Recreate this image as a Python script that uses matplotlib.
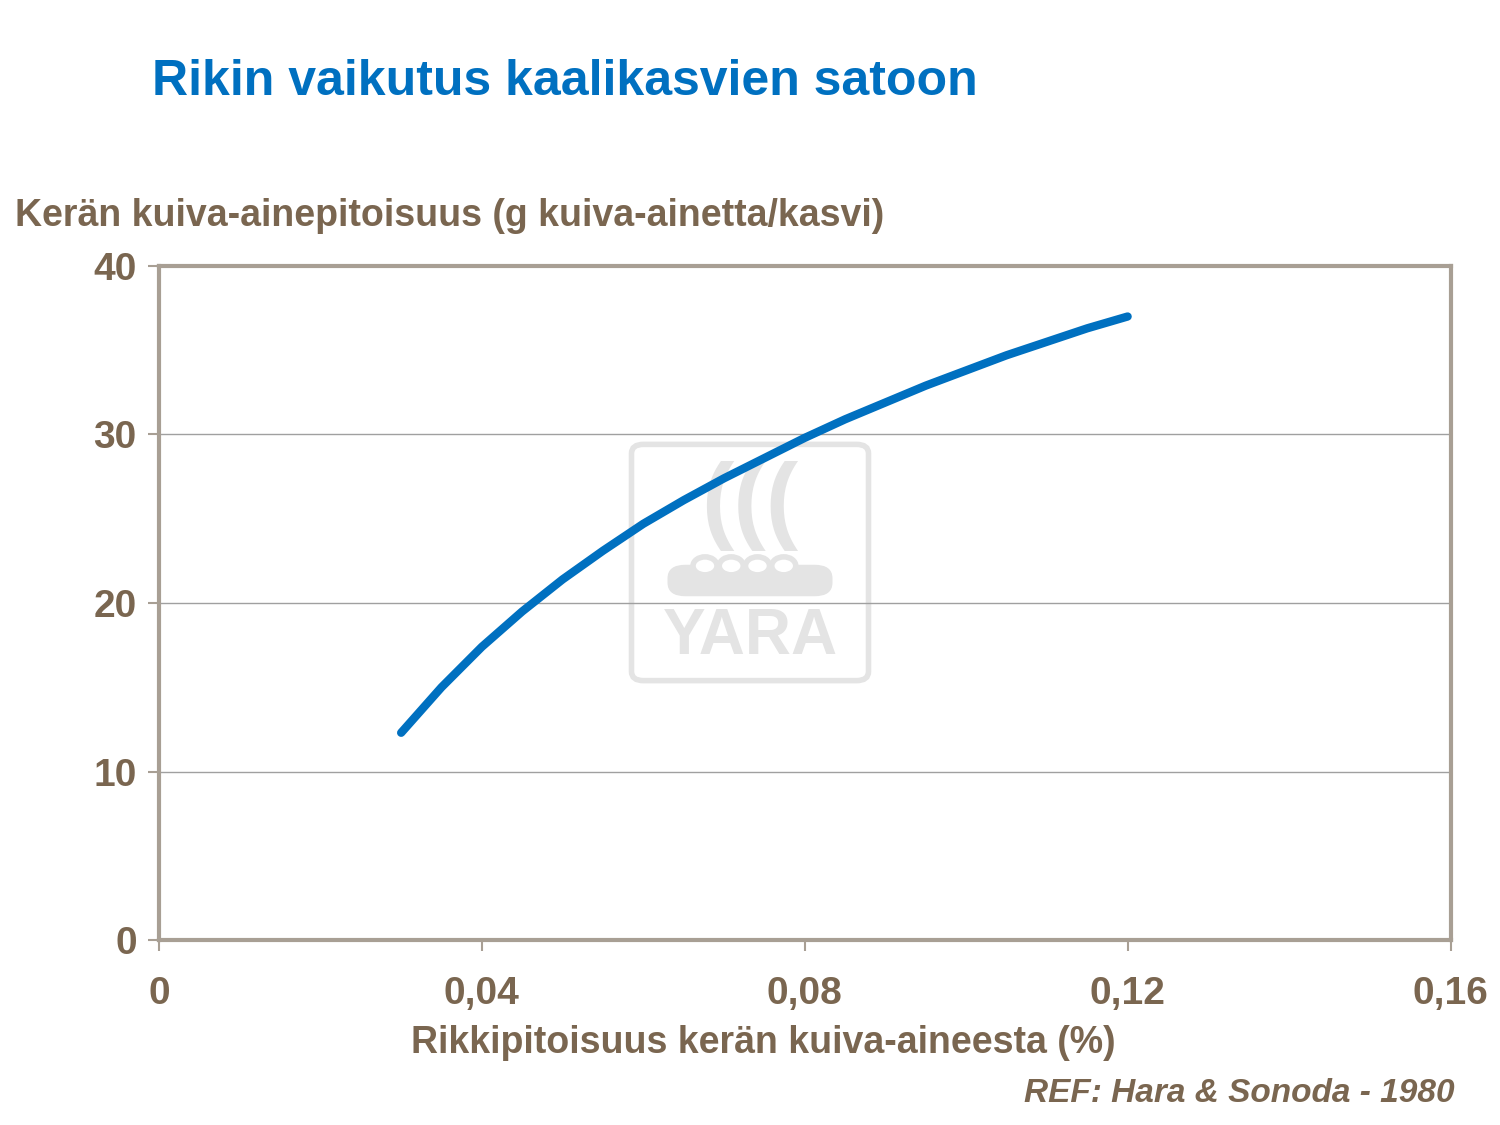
import matplotlib
matplotlib.use("Agg")
import matplotlib.pyplot as plt
from matplotlib.patches import FancyBboxPatch, Circle

x = [0.03, 0.035, 0.04, 0.045, 0.05, 0.055, 0.06, 0.065, 0.07, 0.075, 0.08,
     0.085, 0.09, 0.095, 0.10, 0.105, 0.11, 0.115, 0.12]
y = [12.3, 15.0, 17.4, 19.5, 21.4, 23.1, 24.7, 26.1, 27.4, 28.6, 29.8,
     30.9, 31.9, 32.9, 33.8, 34.7, 35.5, 36.3, 37.0]
xticks = [0, 0.04, 0.08, 0.12, 0.16]
xlabels = ["0", "0,04", "0,08", "0,12", "0,16"]
yticks = [0, 10, 20, 30, 40]

plt.rcParams['font.family'] = ['Liberation Sans', 'DejaVu Sans']
brown = '#7A6650'
wmc = '#E4E4E4'
fig = plt.figure(figsize=(15, 11.25), dpi=100)
ax = fig.add_axes([0.106, 0.1644, 0.861, 0.5992])
ax.set_zorder(5)

# watermark
wm = FancyBboxPatch((0.421, 0.395), 0.158, 0.21, boxstyle="round,pad=0,rounding_size=0.008",
                    transform=fig.transFigure, fill=False, ec=wmc, lw=4, zorder=0)
fig.patches.append(wm)
fig.patches.append(FancyBboxPatch((0.445, 0.47), 0.11, 0.028, boxstyle="round,pad=0,rounding_size=0.012",
                    transform=fig.transFigure, fc=wmc, ec='none', zorder=0))
for i in range(4):
    fig.patches.append(Circle((0.47 + i * 0.0175, 0.497), 0.008, transform=fig.transFigure,
                              fc='white', ec=wmc, lw=4, zorder=0))
fig.text(0.5, 0.434, "YARA", ha='center', va='center', fontsize=46, fontweight='bold', color=wmc, zorder=0)
fig.text(0.5, 0.55, "(((", ha='center', va='center', fontsize=70, fontweight='bold', color=wmc, zorder=0)

ax.plot(x, y, color='#0070C0', lw=6, solid_capstyle='round', solid_joinstyle='round', zorder=3)
ax.set_xlim(0, 0.16)
ax.set_ylim(0, 40)
ax.set_xticks(xticks)
ax.set_xticklabels(xlabels)
ax.set_yticks(yticks)
ax.grid(axis='y', color='#A0A0A0', lw=1)
ax.set_axisbelow(True)
ax.patch.set_alpha(0)
for s in ax.spines.values():
    s.set_color('#A89F94'); s.set_linewidth(3)
ax.tick_params(colors='#A89F94', width=1.5, length=8, direction='out', labelcolor=brown, labelsize=28, pad=8)
for t in ax.get_xticklabels() + ax.get_yticklabels():
    t.set_fontweight('bold')
ax.tick_params(axis='x', pad=18)

fig.text(0.101, 0.927, "Rikin vaikutus kaalikasvien satoon", fontsize=36, fontweight='bold', color='#0070C0', va='center')
fig.text(0.01, 0.808, "Kerän kuiva-ainepitoisuus (g kuiva-ainetta/kasvi)", fontsize=27, fontweight='bold', color=brown, va='center')
fig.text(0.509, 0.073, "Rikkipitoisuus kerän kuiva-aineesta (%)", fontsize=27, fontweight='bold', color=brown, ha='center', va='center')
fig.text(0.97, 0.028, "REF: Hara & Sonoda - 1980", fontsize=24, fontweight='bold', style='italic', color=brown, ha='right', va='center')

fig.savefig("out.png", dpi=100)
